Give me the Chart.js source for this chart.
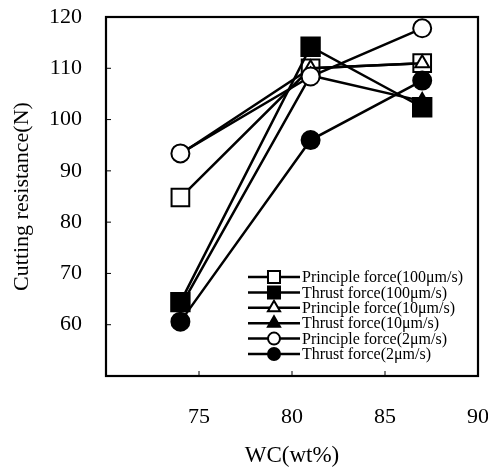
<!DOCTYPE html>
<html>
<head>
<meta charset="utf-8">
<script src="https://cdn.jsdelivr.net/npm/chart.js@4"></script>
<style>
html, body { margin: 0; padding: 0; background: #fff; }
</style>
</head>
<body>
<canvas id="myChart"></canvas>
<script>
// WC content (wt%) of the three samples
let wc = [74, 81, 87];

// cutting resistance (N)
let principle100 = [84.8, 110.0, 111.0];
let thrust100 = [64.4, 114.2, 102.4];
let principle10 = [93.3, 110.0, 111.0];
let thrust10 = [63.5, 108.6, 103.6];
let principle2 = [93.4, 108.4, 117.8];
let thrust2 = [60.6, 96.0, 107.6];

let seriesNames = [
    'Principle force(100\u03bcm/s)',
    'Thrust force(100\u03bcm/s)',
    'Principle force(10\u03bcm/s)',
    'Thrust force(10\u03bcm/s)',
    'Principle force(2\u03bcm/s)',
    'Thrust force(2\u03bcm/s)'
];

let xTickLabels = [75, 80, 85, 90];
let yTickLabels = [60, 70, 80, 90, 100, 110, 120];

let ctx = document.getElementById('myChart').getContext('2d');
ctx.canvas.width = 488;
ctx.canvas.height = 470;

const serif = '"Liberation Serif", "Times New Roman", serif';

function pts(values) {
    return values.map((v, i) => ({ x: wc[i], y: v }));
}

function series(label, values, style, filled, radius, order) {
    return {
        label: label,
        data: pts(values),
        order: order,
        showLine: true,
        borderColor: '#000',
        borderWidth: 2.5,
        pointStyle: style,
        pointRadius: radius,
        pointBorderWidth: 2,
        pointBorderColor: '#000',
        pointBackgroundColor: filled ? '#000' : '#fff',
        backgroundColor: filled ? '#000' : '#fff'
    };
}

// labels may hang outside the box, like the original
function noOverflow(s) {
    s.paddingLeft = 0;
    s.paddingRight = 0;
    s.paddingTop = 0;
    s.paddingBottom = 0;
}

let legendRadius = { rect: 8.5, triangle: 7, circle: 6 };

// legend sits inside the plot, lower right
const insideLegend = {
    id: 'insideLegend',
    afterDatasetsDraw(chart) {
        let c = chart.ctx;
        chart.data.datasets.forEach((ds, i) => {
            let y = 277 + i * 15.4;
            c.save();
            c.strokeStyle = '#000';
            c.lineWidth = 2.5;
            c.beginPath();
            c.moveTo(248, y);
            c.lineTo(300, y);
            c.stroke();
            c.fillStyle = ds.pointBackgroundColor;
            c.lineWidth = 2;
            Chart.helpers.drawPoint(c, {
                pointStyle: ds.pointStyle,
                radius: legendRadius[ds.pointStyle],
                borderWidth: 2
            }, 274, y);
            c.fillStyle = '#000';
            c.font = '16px ' + serif;
            c.textBaseline = 'middle';
            c.textAlign = 'left';
            c.fillText(ds.label, 302, y + 1);
            c.restore();
        });
    }
};

// box round the plot and small inward ticks
const frame = {
    id: 'frame',
    afterDraw(chart) {
        let c = chart.ctx;
        let a = chart.chartArea;
        let xs = chart.scales.x;
        let ys = chart.scales.y;
        c.save();
        c.strokeStyle = '#000';
        c.lineWidth = 1;
        xs.ticks.forEach(t => {
            let px = xs.getPixelForValue(t.value);
            c.beginPath();
            c.moveTo(px, a.bottom);
            c.lineTo(px, a.bottom - 5);
            c.stroke();
        });
        ys.ticks.forEach(t => {
            let py = ys.getPixelForValue(t.value);
            c.beginPath();
            c.moveTo(a.left, py);
            c.lineTo(a.left + 5, py);
            c.stroke();
        });
        c.lineWidth = 2.2;
        c.strokeRect(a.left, a.top, a.right - a.left, a.bottom - a.top);
        c.restore();
    }
};

let styles = ['rect', 'rect', 'triangle', 'triangle', 'circle', 'circle'];
let fills = [false, true, false, true, false, true];
let radii = [12.5, 13, 8, 8, 9, 9];
// circles on top, squares underneath
let layers = [5, 4, 3, 2, 1, 0];
let values = [principle100, thrust100, principle10, thrust10, principle2, thrust2];

let myChart = new Chart(ctx, {
    type: 'scatter',
    data: {
        datasets: values.map((v, i) => series(seriesNames[i], v, styles[i], fills[i], radii[i], layers[i]))
    },
    options: {
        responsive: false,
        animation: false,
        layout: {
            autoPadding: false,
            padding: { top: 17, right: 10, left: 0, bottom: 0 }
        },
        scales: {
            x: {
                type: 'linear',
                min: 70,
                max: 90,
                grid: { display: false, drawTicks: false },
                border: { display: false },
                ticks: {
                    stepSize: 5,
                    color: '#000',
                    padding: 28,
                    maxRotation: 0,
                    font: { family: serif, size: 22 },
                    callback: v => xTickLabels.includes(v) ? String(v) : ''
                },
                title: {
                    display: true,
                    text: 'WC(wt%)',
                    color: '#000',
                    font: { family: serif, size: 23 },
                    padding: { top: 7, bottom: 0 }
                },
                afterFit: s => { noOverflow(s); s.height = 94; }
            },
            y: {
                min: 50,
                max: 120,
                grid: { display: false, drawTicks: false },
                border: { display: false },
                ticks: {
                    stepSize: 10,
                    color: '#000',
                    padding: 24,
                    font: { family: serif, size: 22 },
                    callback: v => yTickLabels.includes(v) ? String(v) : ''
                },
                title: {
                    display: true,
                    text: 'Cutting resistance(N)',
                    color: '#000',
                    font: { family: serif, size: 22 },
                    padding: { top: 9, bottom: 0 }
                },
                afterFit: s => { noOverflow(s); s.width = 106; }
            }
        },
        plugins: {
            legend: { display: false },
            tooltip: { enabled: false }
        }
    },
    plugins: [frame, insideLegend]
});
</script>
</body>
</html>
